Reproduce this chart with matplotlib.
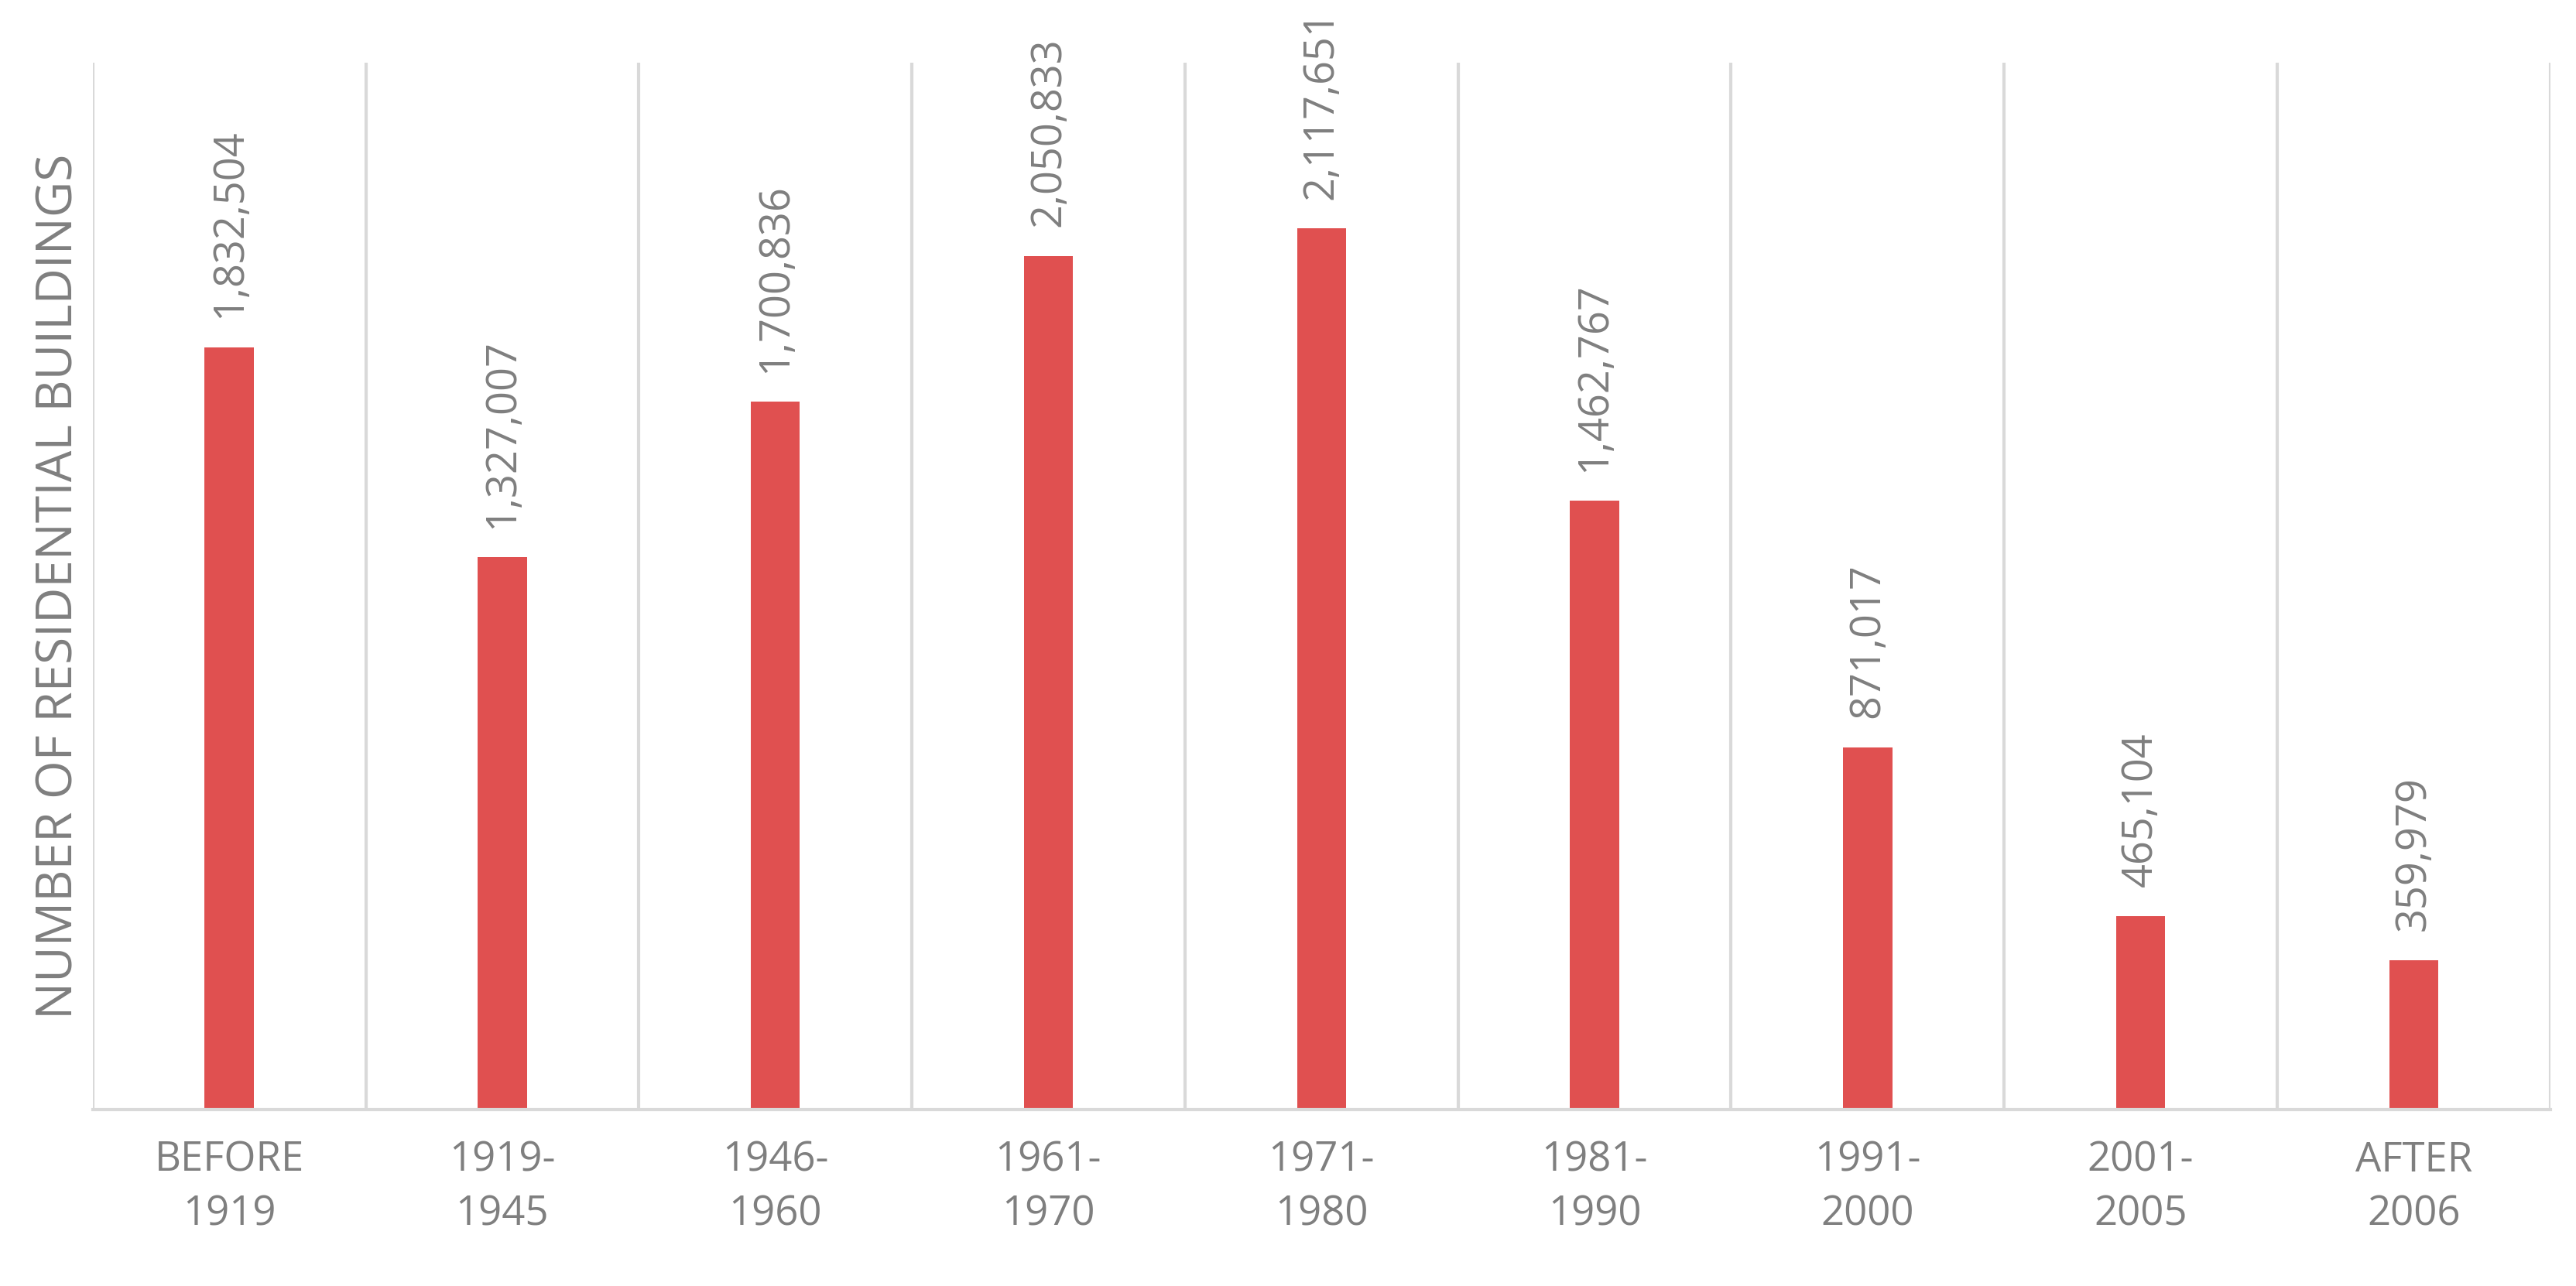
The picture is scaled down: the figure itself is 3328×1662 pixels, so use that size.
import matplotlib.pyplot as plt
import numpy as np

plt.rcParams['font.family'] = ['Open Sans', 'DejaVu Sans']

categories = ["BEFORE\n1919", "1919-\n1945", "1946-\n1960", "1961-\n1970", "1971-\n1980",
              "1981-\n1990", "1991-\n2000", "2001-\n2005", "AFTER\n2006"]
values = [1832504, 1327007, 1700836, 2050833, 2117651, 1462767, 871017, 465104, 359979]

grey = '#7f7f7f'
fig = plt.figure(figsize=(16.64, 8.31), dpi=200)
ax = fig.add_axes([0.036, 0.137, 0.954, 0.814])

x = np.arange(len(values))
ax.bar(x, values, width=0.18, color='#e05050', zorder=2)
for xi, v in zip(x, values):
    ax.text(xi, v + 70000, f"{v:,}", rotation=90, ha='center', va='bottom',
            fontsize=19.5, color=grey)

ax.set_xlim(-0.5, len(values) - 0.5)
ax.set_ylim(0, 2515000)
for b in np.arange(-0.5, len(values), 1):
    ax.axvline(b, color='#d9d9d9', lw=1.5, zorder=1)
for s in ['top', 'right', 'left']:
    ax.spines[s].set_visible(False)
ax.spines['bottom'].set_color('#d9d9d9')
ax.spines['bottom'].set_linewidth(1.5)
ax.set_yticks([])
ax.set_xticks(x)
ax.set_xticklabels(categories, fontsize=19, color=grey, linespacing=1.4)
ax.tick_params(axis='x', length=0, pad=14)
ax.set_ylabel("NUMBER OF RESIDENTIAL BUILDINGS", fontsize=23, color=grey, labelpad=4)

fig.savefig("out.png", dpi=200)
